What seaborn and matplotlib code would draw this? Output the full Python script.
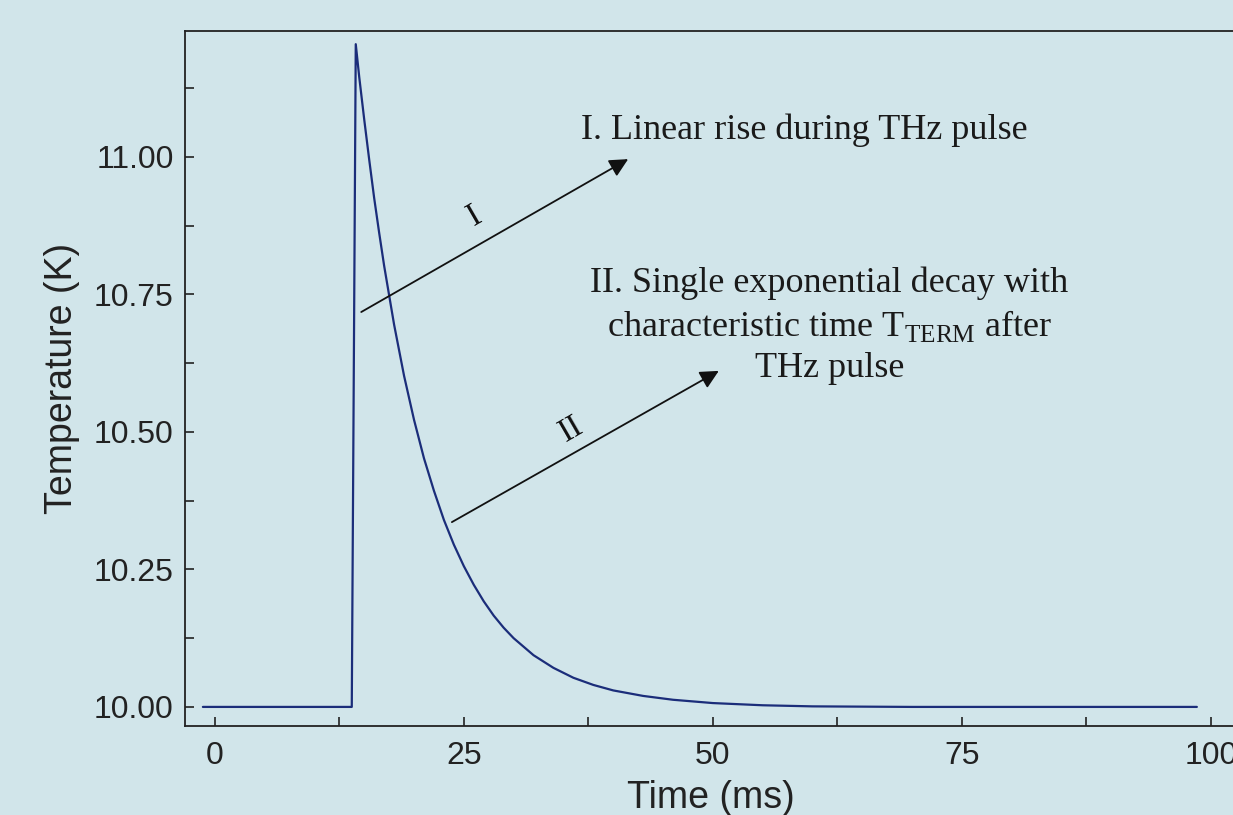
import seaborn as sns
import matplotlib.pyplot as plt

# values
time_ms = [-1.2, 13.75, 14.15, 14.5, 15, 15.5, 16, 16.5, 17, 18, 19, 20, 21, 22, 23, 24,
           25, 26, 27, 28, 29, 30, 32, 34, 36, 38, 40, 43, 46, 50, 55, 60, 70, 80, 90, 98.6]
temp_k = [10.0, 10.0, 11.205, 11.145, 11.068, 10.995, 10.925, 10.862, 10.802, 10.695,
          10.602, 10.522, 10.452, 10.393, 10.340, 10.295, 10.256, 10.222, 10.192, 10.166,
          10.144, 10.125, 10.094, 10.071, 10.053, 10.040, 10.030, 10.020, 10.013, 10.007,
          10.003, 10.001, 10.0, 10.0, 10.0, 10.0]

x_ticks = [0, 25, 50, 75, 100]
y_ticks = [10.00, 10.25, 10.50, 10.75, 11.00]

label_1 = "I. Linear rise during THz pulse"
label_2 = "II. Single exponential decay with\ncharacteristic time T$_{\\mathrm{TERM}}$ after\nTHz pulse"

bg = "#d1e5ea"
sns.set_theme(style="ticks")
plt.rcParams['font.family'] = ['Liberation Sans', 'DejaVu Sans']
plt.rcParams['mathtext.fontset'] = 'custom'
plt.rcParams['mathtext.rm'] = 'Liberation Serif'

fig = plt.figure(figsize=(12.33, 8.15), dpi=100, facecolor=bg)
ax = fig.add_axes([0.150, 0.109, 0.853, 0.853])
ax.set_facecolor(bg)

sns.lineplot(x=time_ms, y=temp_k, ax=ax, color="#1b2d7a", linewidth=1.6,
             estimator=None, sort=False)

ax.set_xlim(-3, 102.6)
ax.set_ylim(9.965, 11.229)
ax.set_xticks(x_ticks)
ax.set_xticklabels([str(v) for v in x_ticks])
ax.set_yticks(y_ticks)
ax.set_yticklabels([f"{v:.2f}" for v in y_ticks])
ax.set_xticks([12.5, 37.5, 62.5, 87.5], minor=True)
ax.set_yticks([10.125, 10.375, 10.625, 10.875, 11.125], minor=True)

ax.tick_params(which="both", direction="in", length=6.5, width=1.2, color="#222222")
ax.tick_params(axis="x", which="major", pad=11, labelsize=23, labelcolor="#222222")
ax.tick_params(axis="y", which="major", pad=8, labelsize=23, labelcolor="#222222")

for side in ["left", "top", "bottom"]:
    ax.spines[side].set_color("#222222")
    ax.spines[side].set_linewidth(1.3)
ax.spines["right"].set_visible(False)

ax.set_xlabel("Time (ms)", fontsize=27, color="#222222", labelpad=6)
ax.set_ylabel("Temperature (K)", fontsize=27, color="#222222", labelpad=10)

serif = ['Liberation Serif', 'DejaVu Serif']
arrow = dict(arrowstyle="-|>", mutation_scale=28, lw=1.3, color="#111111",
             shrinkA=0, shrinkB=0)
ax.annotate("", xy=(41.5, 10.996), xytext=(14.7, 10.718), arrowprops=arrow)
ax.annotate("", xy=(50.6, 10.611), xytext=(23.8, 10.336), arrowprops=arrow)
ax.text(26.1, 10.893, "I", fontsize=24, family=serif, rotation=30,
        ha="center", va="center", color="#111111")
ax.text(35.8, 10.504, "II", fontsize=24, family=serif, rotation=30,
        ha="center", va="center", color="#111111")
ax.text(59.2, 11.049, label_1, fontsize=26, family=serif, ha="center", va="center",
        color="#1a1a1a")
ax.text(61.7, 10.693, label_2, fontsize=26, family=serif, ha="center", va="center",
        color="#1a1a1a", linespacing=1.3, multialignment="center")

fig.savefig("out.png", dpi=100, facecolor=bg)
